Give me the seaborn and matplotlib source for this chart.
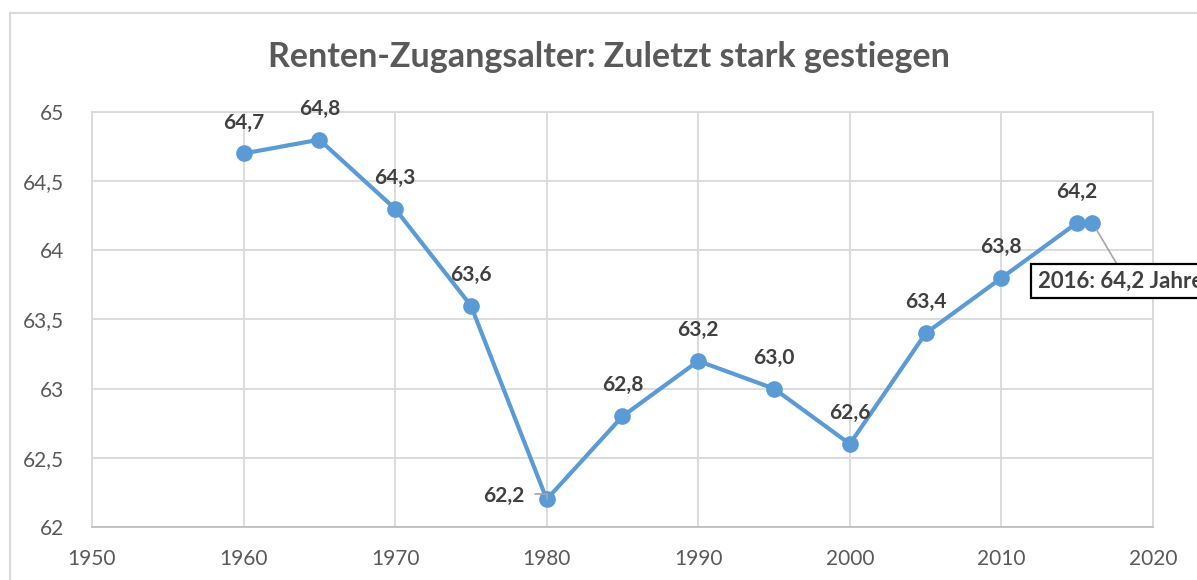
import matplotlib
matplotlib.use("Agg")
import matplotlib.pyplot as plt
import seaborn as sns
import pandas as pd
from matplotlib.patches import Rectangle

years = [1960, 1965, 1970, 1975, 1980, 1985, 1990, 1995, 2000, 2005, 2010, 2015, 2016]
ages = [64.7, 64.8, 64.3, 63.6, 62.2, 62.8, 63.2, 63.0, 62.6, 63.4, 63.8, 64.2, 64.2]
title = "Renten-Zugangsalter: Zuletzt stark gestiegen"
callout = "2016: 64,2 Jahre"
xticks = [1950, 1960, 1970, 1980, 1990, 2000, 2010, 2020]
yticks = [62, 62.5, 63, 63.5, 64, 64.5, 65]

sns.set_theme(style="white")
plt.rcParams['font.family'] = ['Lato', 'DejaVu Sans']

df = pd.DataFrame({"Jahr": years, "Alter": ages})

fig = plt.figure(figsize=(11.97, 5.8), dpi=100)
ax = fig.add_axes([92/1197, 1-527/580, (1153-92)/1197, (527-112)/580])

line_c = "#5B9BD5"
sns.lineplot(data=df, x="Jahr", y="Alter", ax=ax, color=line_c, linewidth=3,
             marker="o", markersize=12, markeredgewidth=0, zorder=3)

ax.set_xlim(1950, 2020)
ax.set_ylim(62, 65)
ax.set_xticks(xticks)
ax.set_yticks(yticks)
ax.set_yticklabels([("%g" % v).replace(".", ",") for v in yticks])
ax.set_xticklabels([str(v) for v in xticks])
ax.tick_params(axis="both", length=0, labelsize=15, labelcolor="#595959")
ax.tick_params(axis="y", pad=20)
ax.tick_params(axis="x", pad=16)
ax.set_xlabel("")
ax.set_ylabel("")
ax.grid(True, color="#D9D9D9", linewidth=1.3)
for s in ax.spines.values():
    s.set_color("#D9D9D9")
    s.set_linewidth(1.3)
ax.spines["bottom"].set_color("#BFBFBF")

lab_c = "#404040"
for i, (x, y) in enumerate(zip(years, ages)):
    txt = ("%.1f" % y).replace(".", ",")
    if x == 2016:
        continue
    if x == 1980:
        ax.annotate(txt, (x, y), xytext=(-22, 3), textcoords="offset pixels",
                    ha="right", va="center", fontsize=15, fontweight="bold", color=lab_c)
        ax.annotate("", (x, y), xytext=(-12, 5), textcoords="offset pixels",
                    arrowprops=dict(arrowstyle="-", color="#A6A6A6", lw=1.2,
                                    connectionstyle="angle,angleA=0,angleB=90,rad=0",
                                    shrinkA=0, shrinkB=0))
        continue
    ax.annotate(txt, (x, y), xytext=(0, 31), textcoords="offset pixels",
                ha="center", va="center", fontsize=15, fontweight="bold", color=lab_c)

ax.annotate(callout, (years[-1], ages[-1]), xytext=(1038, 580-281), textcoords="figure pixels",
            ha="left", va="center", fontsize=16, fontweight="bold", color=lab_c,
            annotation_clip=False,
            bbox=dict(boxstyle="square,pad=0.3", fc="white", ec="black", lw=1.6),
            arrowprops=dict(arrowstyle="-", color="#A6A6A6", lw=1.2, shrinkA=0, shrinkB=6,
                            relpos=(0.5, 1.0)))

fig.text(609/1197, 1-57/580, title, ha="center", va="center", fontsize=24.5,
         fontweight="bold", color="#595959")

fig.patches.append(Rectangle((10/1197, -0.1), 1.2, (1-13/580)+0.1, transform=fig.transFigure,
                             fill=False, ec="#D9D9D9", lw=1.5))

fig.savefig("out.png", dpi=100)
